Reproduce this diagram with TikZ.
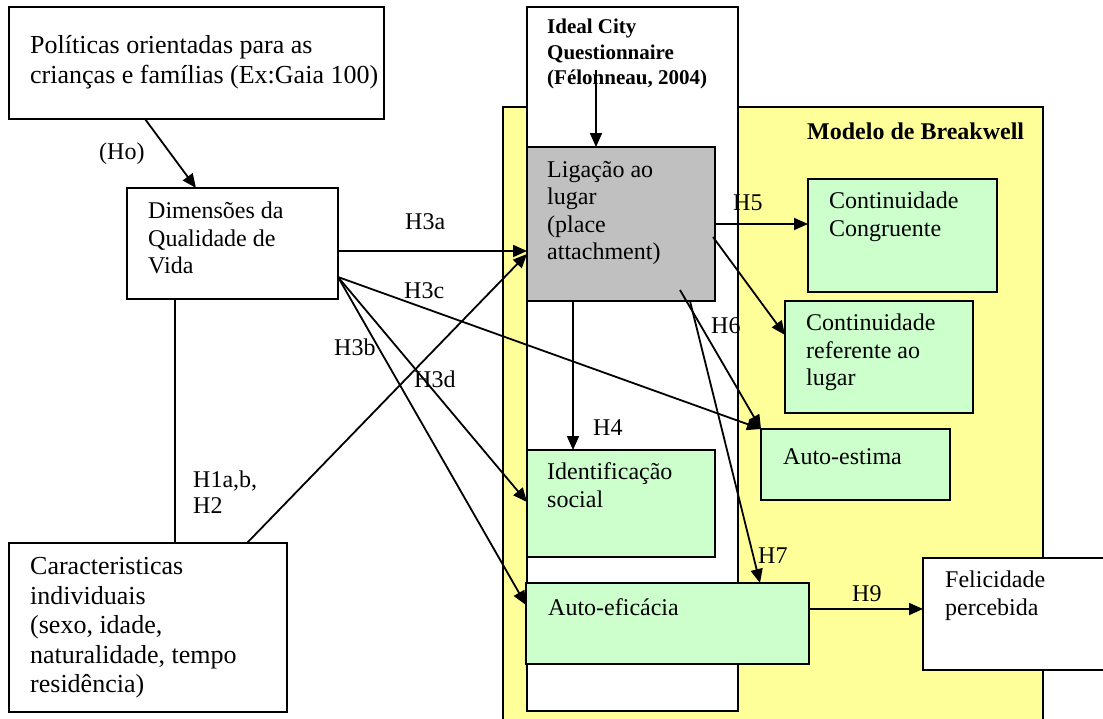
\documentclass[tikz,border=0pt]{standalone}
\usepackage{fontspec}
\setmainfont{Liberation Serif}
\usetikzlibrary{arrows.meta,calc}
\definecolor{ylw}{HTML}{FFFF99}
\definecolor{grn}{HTML}{CCFFCC}
\definecolor{gry}{HTML}{C0C0C0}
\tikzset{
  box/.style={draw, line width=1.6pt, anchor=north west, inner sep=0pt, outer sep=0pt},
  tA/.style={anchor=north west, inner sep=0pt, align=left, font=\fontsize{24}{27.5}\selectfont, execute at begin node=\strut},
  tB/.style={anchor=north west, inner sep=0pt, align=left, font=\fontsize{26}{29.5}\selectfont, execute at begin node=\strut},
  tI/.style={anchor=north west, inner sep=0pt, align=left, font=\fontsize{21}{25.5}\selectfont\bfseries, execute at begin node=\strut},
  lbl/.style={anchor=base west, inner sep=0pt, font=\fontsize{24}{27}\selectfont},
  arr/.style={line width=1.8pt, -{Triangle[length=14pt,width=12pt]}},
  ln/.style={line width=1.8pt}
}
\begin{document}
\begin{tikzpicture}[x=1pt,y=-1pt]
\useasboundingbox (0,0) rectangle (1103,718);
\clip (0,0) rectangle (1103,718);
% containers
\node[box,fill=ylw,minimum width=540,minimum height=640] (bw) at (503,107) {};
\node[box,fill=white,minimum width=211,minimum height=704] (icq) at (527,7) {};
% boxes
\node[box,fill=gry,minimum width=188,minimum height=154] (lig) at (527,147) {};
\node[box,fill=grn,minimum width=189,minimum height=113] (cc) at (808,179) {};
\node[box,fill=grn,minimum width=188,minimum height=112] (cr) at (785,301) {};
\node[box,fill=grn,minimum width=189,minimum height=71] (ae) at (761,429) {};
\node[box,fill=grn,minimum width=188,minimum height=107] (is) at (527,450) {};
\node[box,fill=grn,minimum width=283,minimum height=81] (aef) at (526,583) {};
\node[box,fill=white,minimum width=200,minimum height=112] (fp) at (923,558) {};
\node[box,fill=white,minimum width=375,minimum height=112] (pol) at (9,7) {};
\node[box,fill=white,minimum width=211,minimum height=111] (dim) at (127,188) {};
\node[box,fill=white,minimum width=278,minimum height=169] (car) at (9,543) {};
% texts
\node[tB] (polt) at (30,35.35) {Políticas orientadas para as\\crianças e famílias (Ex:Gaia 100)};
\node[tA] (dimt) at (148,201.75) {Dimensões da\\Qualidade de\\Vida};
\node[tB] (cart) at (30,557.35) {Caracteristicas\\individuais\\(sexo, idade,\\naturalidade, tempo\\residência)};
\node[tI] (icqt) at (547,19.15) {Ideal City\\Questionnaire\\(Félonneau, 2004)};
\node[tA] (ligt) at (547,160.75) {Ligação ao\\lugar\\(place\\attachment)};
\node[anchor=base west, inner sep=0pt, font=\fontsize{24}{27}\selectfont\bfseries] (bwt) at (807,139) {Modelo de Breakwell};
\node[tA] (cct) at (829,191.75) {Continuidade\\Congruente};
\node[tA] (crt) at (806,313.75) {Continuidade\\referente ao\\lugar};
\node[tA] (aet) at (783,444.75) {Auto-estima};
\node[tA] (ist) at (547,462.75) {Identificação\\social};
\node[tA] (aeft) at (548,595.75) {Auto-eficácia};
\node[tA] (fpt) at (945,570.75) {Felicidade\\percebida};
% labels
\node[lbl] (lHo) at (99,159) {(Ho)};
\node[lbl] (lH3a) at (405,229) {H3a};
\node[lbl] (lH3c) at (404,298) {H3c};
\node[lbl] (lH3b) at (334,355) {H3b};
\node[lbl] (lH3d) at (414,387) {H3d};
\node[lbl] (lH1) at (193,487) {H1a,b,};
\node[lbl] (lH2) at (193,513) {H2};
\node[lbl] (lH4) at (593,435) {H4};
\node[lbl] (lH5) at (733,210) {H5};
\node[lbl] (lH6) at (711,333) {H6};
\node[lbl] (lH7) at (758,563) {H7};
\node[lbl] (lH9) at (852,601) {H9};
% connectors
\draw[arr] ($(pol.south west)+(136,0)$) -- ($(dim.north west)+(69,0)$);
\draw[arr] ($(dim.north east)+(0,63)$) -- ($(lig.north west)+(0,104)$);
\coordinate (dc) at ($(dim.south east)+(0,-22)$);
\draw[arr] (dc) -- (ae.north west);
\draw[arr] (dc) -- ($(is.north west)+(0,52)$);
\draw[arr] (dc) -- ($(aef.north west)+(0,22)$);
\draw[ln] ($(dim.south west)+(48,0)$) -- ($(car.north west)+(166,0)$);
\draw[arr] ($(car.north west)+(238,0)$) -- ($(lig.north west)+(0,107)$);
\coordinate (icqa) at (596,70);
\draw[arr] (icqa) -- (lig.north -| icqa);
\draw[arr] ($(lig.north east)+(0,77)$) -- ($(cc.north west)+(0,45)$);
\draw[arr] ($(lig.north east)+(-2,90)$) -- ($(cr.north west)+(0,34)$);
\draw[arr] ($(lig.south west)+(153,-11)$) -- (ae.north west);
\draw[arr] ($(lig.south west)+(163,0)$) -- ($(aef.north west)+(234,0)$);
\draw[arr] ($(lig.south west)+(46,0)$) -- ($(is.north west)+(46,0)$);
\draw[arr] ($(aef.north east)+(0,26)$) -- ($(fp.north west)+(0,51)$);
\end{tikzpicture}
\end{document}
